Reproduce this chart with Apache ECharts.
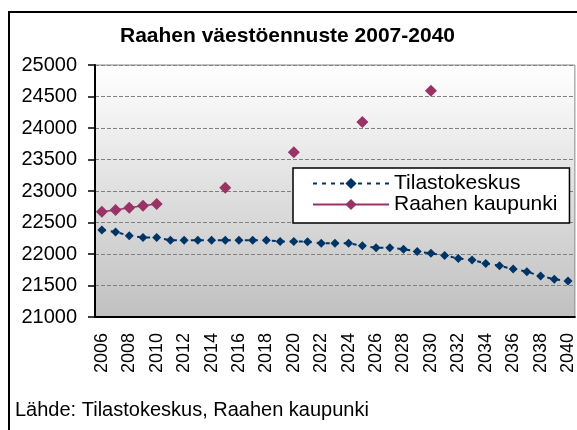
<!DOCTYPE html>
<html>
<head>
<meta charset="utf-8">
<script src="https://cdn.jsdelivr.net/npm/echarts@6/dist/echarts.min.js"></script>
<style>
  html, body { margin: 0; padding: 0; background: #fff; }
  #chart-container { width: 577px; height: 430px; }
</style>
</head>
<body>
<div id="chart-container"></div>
<script>
var years = ['2006', '2007', '2008', '2009', '2010', '2011', '2012', '2013', '2014', '2015',
  '2016', '2017', '2018', '2019', '2020', '2021', '2022', '2023', '2024', '2025',
  '2026', '2027', '2028', '2029', '2030', '2031', '2032', '2033', '2034', '2035',
  '2036', '2037', '2038', '2039', '2040'];

// Tilastokeskus projection, one value per year
var tilastokeskus = [22380, 22350, 22290, 22260, 22260, 22220, 22220, 22220, 22220, 22220,
  22220, 22220, 22220, 22200, 22200, 22195, 22170, 22170, 22170, 22130,
  22100, 22100, 22075, 22040, 22010, 21975, 21930, 21905, 21850, 21815,
  21760, 21720, 21650, 21600, 21570];

// Raahen kaupunki: only some years
var raahe = [22670, 22700, 22735, 22765, 22795, null, null, null, null, 23050,
  null, null, null, null, 23615, null, null, null, null, 24095,
  null, null, null, null, 24590, null, null, null, null, null,
  null, null, null, null, null];

var yTicks = { min: 21000, max: 25000, step: 500 };

var font = "'Liberation Sans', Arial, sans-serif";

var dom = document.getElementById('chart-container');
var myChart = echarts.init(dom, null, { renderer: 'canvas' });

var option = {
  backgroundColor: '#fff',
  animation: false,
  title: {
    text: 'Raahen väestöennuste 2007-2040',
    left: 120,
    top: 26,
    padding: 0,
    textStyle: { fontFamily: font, fontSize: 21, fontWeight: 'bold', color: '#000' }
  },
  graphic: [
    {
      type: 'rect',
      z: -10,
      shape: { x: 9, y: 12, width: 700, height: 500 },
      style: { fill: 'none', stroke: '#000', lineWidth: 2 }
    },
    {
      type: 'text',
      style: {
        x: 15, y: 410,
        text: 'Lähde: Tilastokeskus, Raahen kaupunki',
        fontFamily: font, fontSize: 20, fill: '#000',
        verticalAlign: 'middle'
      }
    }
  ],
  legend: {
    orient: 'vertical',
    left: 293,
    top: 168,
    padding: [5, 12, 8, 19],
    itemWidth: 76,
    itemHeight: 14,
    itemGap: 0,
    itemTextGap: 9,
    backgroundColor: '#fff',
    borderColor: '#000',
    borderWidth: 1.5,
    textStyle: { fontFamily: font, fontSize: 21, color: '#000', lineHeight: 21 },
    data: ['Tilastokeskus', 'Raahen kaupunki'],
    z: 10
  },
  grid: {
    left: 95,
    right: 0,
    top: 65,
    bottom: 113,
    show: true,
    borderWidth: 1,
    borderColor: '#888',
    backgroundColor: new echarts.graphic.LinearGradient(0, 0, 0, 1, [
      { offset: 0, color: '#ffffff' },
      { offset: 1, color: '#c0c0c0' }
    ])
  },
  xAxis: {
    type: 'category',
    data: years,
    boundaryGap: true,
    axisLine: { lineStyle: { color: '#000', width: 2 } },
    axisTick: { interval: 0, length: 6, lineStyle: { color: '#000', width: 1.5 } },
    axisLabel: {
      interval: 1,
      rotate: 90,
      margin: 16,
      fontFamily: font,
      fontSize: 18,
      color: '#000'
    },
    splitLine: { show: false }
  },
  yAxis: {
    type: 'value',
    min: yTicks.min,
    max: yTicks.max,
    interval: yTicks.step,
    axisLine: { show: true, lineStyle: { color: '#000', width: 2 } },
    axisTick: { show: true, length: 7, lineStyle: { color: '#000', width: 1.5 } },
    axisLabel: {
      margin: 18,
      fontFamily: font,
      fontSize: 20,
      color: '#000',
      formatter: function (v) { return String(v); }
    },
    splitLine: { lineStyle: { color: '#808080', type: [4, 2], width: 1 } }
  },
  series: [
    {
      name: 'Tilastokeskus',
      type: 'line',
      data: tilastokeskus,
      symbol: 'diamond',
      symbolSize: 9,
      showAllSymbol: true,
      itemStyle: { color: '#003366' },
      lineStyle: { color: '#003366', width: 2, type: [4, 5] }
    },
    {
      name: 'Raahen kaupunki',
      type: 'line',
      data: raahe,
      connectNulls: false,
      symbol: 'diamond',
      symbolSize: 12,
      showAllSymbol: true,
      itemStyle: { color: '#993366' },
      lineStyle: { color: '#993366', width: 1.5 }
    }
  ]
};

myChart.setOption(option);
window.addEventListener('resize', myChart.resize);
</script>
</body>
</html>
